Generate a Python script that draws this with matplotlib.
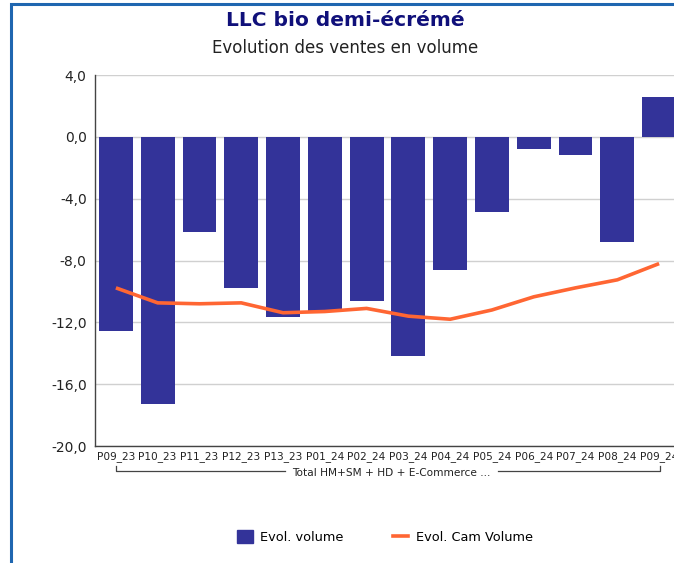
import matplotlib
matplotlib.use("Agg")
import matplotlib.pyplot as plt
from matplotlib.patches import Rectangle
from matplotlib.lines import Line2D
import numpy as np

categories = ["P09_23", "P10_23", "P11_23", "P12_23", "P13_23", "P01_24", "P02_24",
              "P03_24", "P04_24", "P05_24", "P06_24", "P07_24", "P08_24", "P09_24"]
evol_volume = [-12.55, -17.3, -6.15, -9.77, -11.64, -11.25, -10.6,
               -14.2, -8.6, -4.85, -0.78, -1.16, -6.8, 2.6]
evol_cam_volume = [-9.77, -10.74, -10.8, -10.74, -11.38, -11.3, -11.1,
                   -11.6, -11.8, -11.2, -10.35, -9.77, -9.25, -8.2]
yticks = [4, 0, -4, -8, -12, -16, -20]
group_label = "Total HM+SM + HD + E-Commerce ..."

W, H = 674, 563
fig = plt.figure(figsize=(W / 100, H / 100), dpi=100)
font = "DejaVu Sans"

# Outer blue frame
fig.patches.append(Rectangle((10.5 / W, -0.1), 2.0, (H - 3.5) / H + 0.1,
                             transform=fig.transFigure, fill=False,
                             edgecolor="#1f66b0", linewidth=2.2))

ax_left, ax_right = 95, 680
ax_top, ax_bot = 75, 446
ax = fig.add_axes([ax_left / W, 1 - ax_bot / H, (ax_right - ax_left) / W, (ax_bot - ax_top) / H])

x = np.arange(len(categories))
ax.bar(x, evol_volume, width=0.81, color="#333399", zorder=2)
ax.plot(x, evol_cam_volume, color="#ff6633", linewidth=2.6, zorder=3, solid_capstyle="butt")

ax.set_xlim(-0.5, len(categories) - 0.5)
ax.set_ylim(-20, 4)
ax.set_yticks(yticks)
ax.set_yticklabels([f"{v:.1f}".replace(".", ",") for v in yticks], fontsize=10, family=font, color="#222222")
ax.yaxis.grid(True, color="#d0d0d0", linewidth=1, zorder=0)
ax.set_axisbelow(True)
ax.tick_params(axis="y", length=0, pad=6)
ax.set_xticks(x)
ax.set_xticklabels(categories, fontsize=7.6, family=font, color="#222222")
ax.tick_params(axis="x", length=0, pad=4)
for s in ["top", "right"]:
    ax.spines[s].set_visible(False)
ax.spines["left"].set_color("#444444")
ax.spines["bottom"].set_color("#444444")
ax.spines["left"].set_linewidth(1.0)
ax.spines["bottom"].set_linewidth(1.0)

# Group bracket below tick labels
yb = 1 - 471 / H
yt = 1 - 466 / H
x0 = 116 / W
x1 = 660 / W
xc = 385 / W
tl = 100 / W
fig.add_artist(Line2D([x0, x0, xc - tl], [yt, yb, yb], transform=fig.transFigure, color="#444444", linewidth=0.9))
fig.add_artist(Line2D([xc + tl + 0.02, x1, x1], [yb, yb, yt], transform=fig.transFigure, color="#444444", linewidth=0.9))
fig.text(xc + 0.01, 1 - 473 / H, group_label, ha="center", va="center", fontsize=7.6, family=font, color="#222222")

# Titles
fig.text(345 / W, 1 - 20 / H, "LLC bio demi-écrémé", ha="center", va="center",
         fontsize=14.5, fontweight="bold", color="#10107a", family=font)
fig.text(345 / W, 1 - 48 / H, "Evolution des ventes en volume", ha="center", va="center",
         fontsize=12, color="#222222", family=font)

# Legend
handles = [Rectangle((0, 0), 1, 1, color="#333399"),
           Line2D([0], [0], color="#ff6633", linewidth=2.6)]
fig.legend(handles, ["Evol. volume", "Evol. Cam Volume"], loc="center",
           bbox_to_anchor=(385 / W, 1 - 537 / H), ncol=2, frameon=False,
           prop={"family": font, "size": 9.3}, handlelength=1.2, handleheight=1.1,
           columnspacing=3.8, handletextpad=0.6)

fig.savefig("out.png", dpi=100)
